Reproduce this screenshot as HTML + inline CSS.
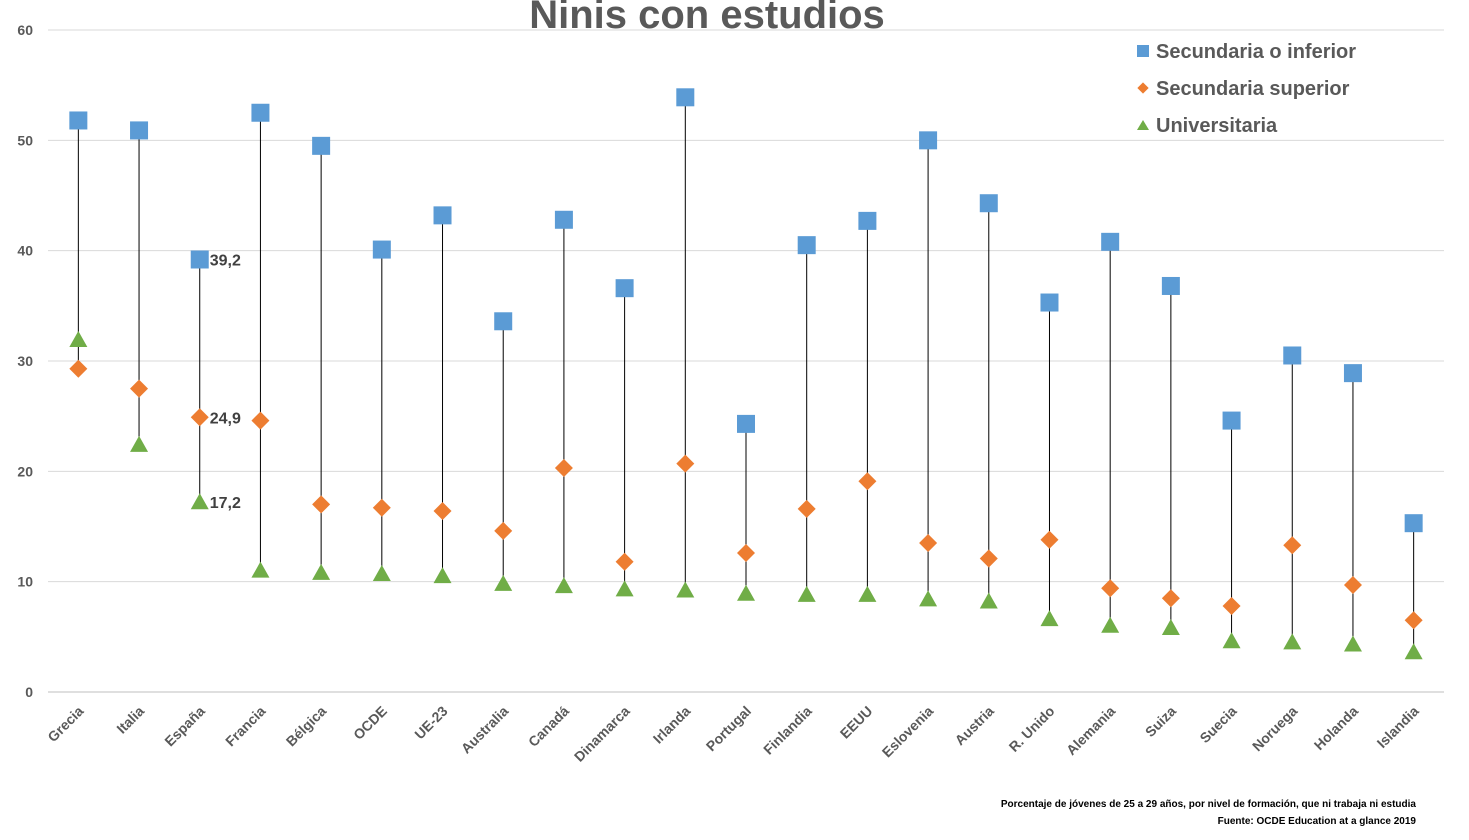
<!DOCTYPE html>
<html><head><meta charset="utf-8"><style>
body{margin:0;background:#fff;font-family:"Liberation Sans",sans-serif;}
svg text{font-family:"Liberation Sans",sans-serif;}
</style></head><body>
<svg id="chart" width="1469" height="835" xmlns="http://www.w3.org/2000/svg">
<text x="707" y="28" text-anchor="middle" font-size="40" font-weight="bold" fill="#595959">Ninis con estudios</text>
<g id="grid"></g><g id="lines"></g><g id="marks"></g><g id="labels"></g>
<g>
<rect x="1137" y="45" width="12" height="12" fill="#5b9bd5"/>
<text x="1156" y="58" font-size="20" font-weight="bold" fill="#595959">Secundaria o inferior</text>
<rect x="1139" y="84" width="8" height="8" fill="#ed7d31" transform="rotate(45 1143 88)"/>
<text x="1156" y="95" font-size="20" font-weight="bold" fill="#595959">Secundaria superior</text>
<polygon points="1143,120 1149,130 1137,130" fill="#70ad47"/>
<text x="1156" y="132" font-size="20" font-weight="bold" fill="#595959">Universitaria</text>
</g>
<text x="1416" y="807" text-anchor="end" font-size="10" font-weight="bold" fill="#000">Porcentaje de jóvenes de 25 a 29 años, por nivel de formación, que ni trabaja ni estudia</text>
<text x="1416" y="824" text-anchor="end" font-size="10" font-weight="bold" fill="#000">Fuente: OCDE Education at a glance 2019</text>
</svg>
<script>
const categories=["Grecia","Italia","España","Francia","Bélgica","OCDE","UE-23","Australia","Canadá","Dinamarca","Irlanda","Portugal","Finlandia","EEUU","Eslovenia","Austria","R. Unido","Alemania","Suiza","Suecia","Noruega","Holanda","Islandia"];
const secInferior=[51.8,50.9,39.2,52.5,49.5,40.1,43.2,33.6,42.8,36.6,53.9,24.3,40.5,42.7,50,44.3,35.3,40.8,36.8,24.6,30.5,28.9,15.3];
const secSuperior=[29.3,27.5,24.9,24.6,17.0,16.7,16.4,14.6,20.3,11.8,20.7,12.6,16.6,19.1,13.5,12.1,13.8,9.4,8.5,7.8,13.3,9.7,6.5];
const universitaria=[31.9,22.4,17.2,11.0,10.8,10.7,10.5,9.8,9.6,9.3,9.2,8.9,8.8,8.8,8.4,8.2,6.6,6.0,5.8,4.6,4.5,4.3,3.6];
const yTicks=[0,10,20,30,40,50,60];
const NS="http://www.w3.org/2000/svg";
const x0=48,x1=1444,yBase=692,yTop=30;
const xs=i=>x0+(x1-x0)/categories.length*(i+0.5);
const ys=v=>yBase-(yBase-yTop)*v/60;
function mk(tag,attrs,parent){const e=document.createElementNS(NS,tag);for(const k in attrs)e.setAttribute(k,attrs[k]);document.getElementById(parent).appendChild(e);return e;}
yTicks.forEach(t=>{
 const l=mk('line',{x1:x0,x2:x1,y1:ys(t),y2:ys(t),stroke:t===0?'#bfbfbf':'#d9d9d9','stroke-width':1},'grid');
 
 
 const tx=mk('text',{x:33,y:ys(t)+5,'text-anchor':'end','font-size':14,'font-weight':'bold',fill:'#595959'},'grid');
 tx.textContent=t;
 
 
});
categories.forEach((c,i)=>{
 const x=xs(i);
 const hi=Math.max(secInferior[i],secSuperior[i],universitaria[i]);
 const lo=Math.min(secInferior[i],secSuperior[i],universitaria[i]);
 const ln=mk('line',{x1:x,x2:x,y1:ys(hi),y2:ys(lo),stroke:'#000','stroke-width':1},'lines');
 
 
 const sq=mk('rect',{x:x-9,y:ys(secInferior[i])-9,width:18,height:18,fill:'#5b9bd5'},'marks');
 
 
 const yd=ys(secSuperior[i]);
 const dm=mk('polygon',{points:`${x},${yd-9} ${x+9},${yd} ${x},${yd+9} ${x-9},${yd}`,fill:'#ed7d31'},'marks');
 
 
 const yt=ys(universitaria[i]);
 const tr=mk('polygon',{points:`${x},${yt-9} ${x+9},${yt+7} ${x-9},${yt+7}`,fill:'#70ad47'},'marks');
 
 
 const lb=mk('text',{x:0,y:0,'text-anchor':'end','font-size':14,'font-weight':'bold',fill:'#595959',transform:`translate(${x+6},${712}) rotate(-45)`},'labels');
 lb.textContent=c;
 
 
 if(c==="España"){
  [[secInferior[i]],[secSuperior[i]],[universitaria[i]]].forEach(([v])=>{
   const t=mk('text',{x:x+10,y:ys(v)+6,'font-size':16,'font-weight':'bold',fill:'#404040'},'labels');
   t.textContent=v.toFixed(1).replace('.',',');
   
   
  });
 }
});
</script>
</body></html>
